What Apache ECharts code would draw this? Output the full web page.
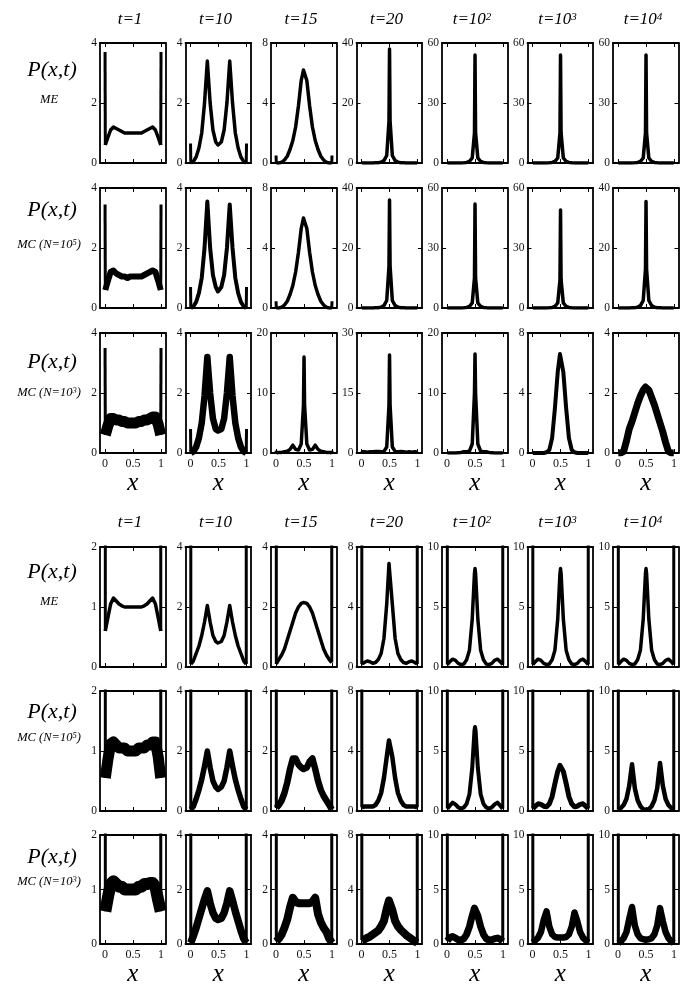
<!DOCTYPE html>
<html><head><meta charset="utf-8">
<script src="https://cdn.jsdelivr.net/npm/echarts@6/dist/echarts.min.js"></script>
<style>html,body{margin:0;padding:0;background:#fff}#c{width:686px;height:988px}</style>
</head><body><div id="c"></div>
<script>
// x grid shared by all panels
const XS = [0, 0.005, 0.05, 0.1, 0.15, 0.2, 0.25, 0.3, 0.35, 0.4, 0.45, 0.49, 0.5, 0.51, 0.55, 0.6, 0.65, 0.7, 0.75, 0.8, 0.85, 0.9, 0.95, 0.995, 1];
const TIME_LABELS = ['t=1', 't=10', 't=15', 't=20', 't=10^2', 't=10^3', 't=10^4'];
const X_TICKS = [0, 0.5, 1];

// ---- top block ----
const A_ME_1 = [3.7, 0.6, 0.85, 1.1, 1.2, 1.15, 1.1, 1.05, 1.0, 1.0, 1.0, 1.0, 1.0, 1.0, 1.0, 1.0, 1.0, 1.05, 1.1, 1.15, 1.2, 1.1, 0.85, 0.6, 3.7];
const A_ME_10 = [0.65, 0, 0.05, 0.2, 0.5, 1.0, 2.0, 3.4, 2.0, 1.1, 0.7, 0.6, 0.6, 0.6, 0.7, 1.1, 2.0, 3.4, 2.0, 1.0, 0.5, 0.2, 0.05, 0, 0.65];
const A_ME_15 = [0.5, 0, 0, 0.05, 0.2, 0.45, 0.9, 1.5, 2.4, 3.8, 5.5, 6.2, 6.3, 6.2, 5.5, 3.8, 2.4, 1.5, 0.9, 0.45, 0.2, 0.05, 0, 0, 0.5];
const A_ME_20 = [0, 0, 0, 0, 0, 0, 0.05, 0.1, 0.3, 0.8, 2.5, 14, 38, 14, 2.5, 0.8, 0.3, 0.1, 0.05, 0, 0, 0, 0, 0, 0];
const A_ME_100 = [0, 0, 0, 0, 0, 0, 0.05, 0.1, 0.3, 0.8, 2.5, 15, 54, 15, 2.5, 0.8, 0.3, 0.1, 0.05, 0, 0, 0, 0, 0, 0];
const A_ME_1000 = [0, 0, 0, 0, 0, 0, 0.05, 0.1, 0.3, 0.8, 2.5, 15, 54, 15, 2.5, 0.8, 0.3, 0.1, 0.05, 0, 0, 0, 0, 0, 0];
const A_ME_10000 = [0, 0, 0, 0, 0, 0, 0.05, 0.1, 0.3, 0.8, 2.5, 15, 54, 15, 2.5, 0.8, 0.3, 0.1, 0.05, 0, 0, 0, 0, 0, 0];
const A_ME_MAX = [4, 4, 8, 40, 60, 60, 60];

const A_MC5_1 = [3.45, 0.6, 0.9, 1.2, 1.25, 1.15, 1.1, 1.05, 1.05, 1.0, 1.05, 1.05, 1.0, 1.05, 1.05, 1.05, 1.05, 1.1, 1.15, 1.2, 1.25, 1.2, 0.9, 0.6, 3.45];
const A_MC5_10 = [0.7, 0, 0.05, 0.2, 0.5, 1.0, 2.0, 3.55, 2.0, 1.1, 0.7, 0.55, 0.55, 0.55, 0.7, 1.1, 2.0, 3.45, 2.0, 1.0, 0.5, 0.2, 0.05, 0, 0.7];
const A_MC5_15 = [0.45, 0, 0, 0.05, 0.2, 0.45, 0.9, 1.5, 2.4, 3.7, 5.3, 6.0, 6.1, 6.0, 5.3, 3.7, 2.4, 1.5, 0.9, 0.45, 0.2, 0.05, 0, 0, 0.45];
const A_MC5_20 = [0, 0, 0, 0, 0, 0, 0.05, 0.1, 0.3, 0.8, 2.5, 14, 36, 14, 2.5, 0.8, 0.3, 0.1, 0.05, 0, 0, 0, 0, 0, 0];
const A_MC5_100 = [0, 0, 0, 0, 0, 0, 0.05, 0.1, 0.3, 0.8, 2.5, 15, 52, 15, 2.5, 0.8, 0.3, 0.1, 0.05, 0, 0, 0, 0, 0, 0];
const A_MC5_1000 = [0, 0, 0, 0, 0, 0, 0.05, 0.1, 0.3, 0.8, 2.5, 14, 49, 14, 2.5, 0.8, 0.3, 0.1, 0.05, 0, 0, 0, 0, 0, 0];
const A_MC5_10000 = [0, 0, 0, 0, 0, 0, 0.05, 0.1, 0.3, 0.8, 2.5, 13, 35.5, 13, 2.5, 0.8, 0.3, 0.1, 0.05, 0, 0, 0, 0, 0, 0];
const A_MC5_MAX = [4, 4, 8, 40, 60, 60, 40];

const A_MC3_1 = [3.5, 0.6, 0.9, 1.15, 1.15, 1.1, 1.1, 1.05, 1.05, 1.0, 1.0, 1.0, 1.0, 1.0, 1.0, 1.05, 1.05, 1.1, 1.1, 1.15, 1.2, 1.2, 0.95, 0.6, 3.5];
const A_MC3_10 = [0.8, 0, 0.05, 0.2, 0.5, 1.0, 1.9, 3.2, 2.0, 1.15, 0.8, 0.75, 0.75, 0.75, 0.8, 1.15, 2.0, 3.2, 1.9, 1.0, 0.5, 0.2, 0.05, 0, 0.8];
const A_MC3_15 = [0.4, 0, 0.1, 0.1, 0.2, 0.3, 0.6, 1.3, 0.6, 0.5, 1.5, 8, 16, 8, 1.5, 0.5, 0.6, 1.3, 0.6, 0.3, 0.2, 0.1, 0.1, 0, 0.4];
const A_MC3_20 = [0, 0.3, 0.3, 0.2, 0.3, 0.3, 0.4, 0.4, 0.3, 0.4, 1.5, 12, 24.5, 12, 1.5, 0.4, 0.3, 0.4, 0.3, 0.2, 0.3, 0.2, 0.3, 0.2, 0];
const A_MC3_100 = [0, 0, 0, 0, 0, 0.05, 0.1, 0.2, 0.2, 0.3, 1.5, 10, 16.5, 10, 1.5, 0.3, 0.2, 0.2, 0.1, 0.05, 0, 0, 0, 0, 0];
const A_MC3_1000 = [0, 0, 0, 0, 0, 0, 0.05, 0.2, 1.0, 3.0, 5.4, 6.6, 6.7, 6.6, 5.4, 3.0, 1.0, 0.2, 0.05, 0, 0, 0, 0, 0, 0];
const A_MC3_10000 = [0, 0, 0, 0.05, 0.4, 0.8, 1.05, 1.35, 1.65, 1.9, 2.1, 2.2, 2.2, 2.2, 2.1, 1.85, 1.6, 1.3, 1.0, 0.7, 0.35, 0.05, 0, 0, 0];
const A_MC3_MAX = [4, 4, 20, 30, 20, 8, 4];

// ---- bottom block ----
const B_ME_1 = [99, 0.6, 0.82, 1.05, 1.15, 1.1, 1.05, 1.02, 1.0, 1.0, 1.0, 1.0, 1.0, 1.0, 1.0, 1.0, 1.0, 1.02, 1.05, 1.1, 1.15, 1.05, 0.82, 0.6, 99];
const B_ME_10 = [99, 0.1, 0.2, 0.45, 0.7, 1.05, 1.5, 2.05, 1.5, 1.05, 0.85, 0.8, 0.8, 0.8, 0.85, 1.05, 1.5, 2.05, 1.5, 1.05, 0.7, 0.45, 0.2, 0.1, 99];
const B_ME_15 = [99, 0.1, 0.25, 0.4, 0.6, 0.9, 1.2, 1.5, 1.8, 2.0, 2.12, 2.15, 2.15, 2.15, 2.12, 2.0, 1.8, 1.5, 1.2, 0.9, 0.6, 0.4, 0.25, 0.15, 99];
const B_ME_20 = [99, 0.2, 0.3, 0.4, 0.35, 0.25, 0.3, 0.5, 0.9, 1.9, 4.2, 6.9, 7.0, 6.9, 4.2, 1.9, 0.9, 0.5, 0.3, 0.25, 0.35, 0.4, 0.3, 0.2, 99];
const B_ME_100 = [99, 0.2, 0.45, 0.65, 0.55, 0.3, 0.2, 0.25, 0.6, 1.4, 4.0, 7.8, 8.2, 7.8, 4.0, 1.4, 0.6, 0.25, 0.2, 0.3, 0.55, 0.65, 0.45, 0.2, 99];
const B_ME_1000 = [99, 0.2, 0.45, 0.65, 0.55, 0.3, 0.2, 0.25, 0.6, 1.4, 4.0, 7.8, 8.2, 7.8, 4.0, 1.4, 0.6, 0.25, 0.2, 0.3, 0.55, 0.65, 0.45, 0.2, 99];
const B_ME_10000 = [99, 0.2, 0.45, 0.65, 0.55, 0.3, 0.2, 0.25, 0.6, 1.4, 4.0, 7.8, 8.2, 7.8, 4.0, 1.4, 0.6, 0.25, 0.2, 0.3, 0.55, 0.65, 0.45, 0.2, 99];
const B_ME_MAX = [2, 4, 4, 8, 10, 10, 10];

const B_MC5_1 = [99, 0.55, 0.85, 1.12, 1.15, 1.1, 1.05, 1.05, 1.05, 1.0, 1.0, 1.0, 1.0, 1.0, 1.0, 1.05, 1.05, 1.05, 1.1, 1.1, 1.15, 1.15, 0.9, 0.55, 99];
const B_MC5_10 = [99, 0.05, 0.15, 0.4, 0.7, 1.05, 1.5, 2.0, 1.45, 1.0, 0.8, 0.72, 0.7, 0.72, 0.8, 1.0, 1.45, 2.0, 1.5, 1.05, 0.7, 0.4, 0.15, 0.05, 99];
const B_MC5_15 = [99, 0.1, 0.2, 0.35, 0.6, 0.95, 1.4, 1.75, 1.75, 1.55, 1.45, 1.4, 1.4, 1.4, 1.45, 1.65, 1.75, 1.4, 1.0, 0.7, 0.5, 0.35, 0.2, 0.05, 99];
const B_MC5_20 = [99, 0.25, 0.3, 0.3, 0.3, 0.3, 0.4, 0.7, 1.2, 2.2, 3.6, 4.7, 4.8, 4.7, 3.6, 2.2, 1.2, 0.7, 0.4, 0.3, 0.3, 0.3, 0.3, 0.25, 99];
const B_MC5_100 = [99, 0.2, 0.45, 0.7, 0.55, 0.3, 0.2, 0.3, 0.6, 1.4, 3.6, 6.7, 7.0, 6.7, 3.6, 1.4, 0.6, 0.3, 0.2, 0.3, 0.55, 0.7, 0.45, 0.2, 99];
const B_MC5_1000 = [99, 0.2, 0.4, 0.6, 0.55, 0.4, 0.35, 0.6, 1.2, 2.3, 3.3, 3.8, 3.8, 3.8, 3.3, 2.3, 1.2, 0.6, 0.35, 0.4, 0.55, 0.6, 0.4, 0.2, 99];
const B_MC5_10000 = [99, 0.1, 0.25, 0.5, 1.0, 2.1, 3.9, 1.9, 0.9, 0.4, 0.15, 0.1, 0.1, 0.1, 0.15, 0.4, 0.9, 1.9, 4.0, 2.1, 1.0, 0.5, 0.25, 0.1, 99];
const B_MC5_MAX = [2, 4, 4, 8, 10, 10, 10];

const B_MC3_1 = [99, 0.6, 0.85, 1.1, 1.15, 1.1, 1.05, 1.05, 1.0, 1.0, 1.0, 1.0, 1.0, 1.0, 1.0, 1.05, 1.05, 1.1, 1.1, 1.12, 1.12, 1.05, 0.8, 0.6, 99];
const B_MC3_10 = [99, 0.05, 0.3, 0.6, 0.95, 1.3, 1.65, 1.95, 1.5, 1.15, 0.95, 0.9, 0.9, 0.9, 0.95, 1.15, 1.5, 1.95, 1.6, 1.2, 0.85, 0.5, 0.2, 0.05, 99];
const B_MC3_15 = [99, 0.1, 0.2, 0.35, 0.6, 0.9, 1.35, 1.7, 1.55, 1.5, 1.5, 1.5, 1.5, 1.5, 1.5, 1.5, 1.55, 1.7, 1.1, 0.8, 0.6, 0.45, 0.2, 0.05, 99];
const B_MC3_20 = [99, 0.3, 0.35, 0.45, 0.55, 0.7, 0.85, 1.0, 1.3, 1.7, 2.6, 3.2, 3.3, 3.2, 2.5, 1.7, 1.3, 1.05, 0.85, 0.65, 0.5, 0.35, 0.2, 0.1, 99];
const B_MC3_100 = [99, 0.3, 0.6, 0.7, 0.55, 0.4, 0.35, 0.5, 0.9, 1.6, 2.6, 3.3, 3.4, 3.3, 2.6, 1.6, 0.9, 0.5, 0.35, 0.4, 0.5, 0.55, 0.45, 0.25, 99];
const B_MC3_1000 = [99, 0.15, 0.35, 0.6, 1.1, 2.2, 3.0, 1.6, 0.9, 0.65, 0.6, 0.6, 0.6, 0.6, 0.6, 0.65, 0.9, 1.6, 2.9, 2.1, 1.1, 0.6, 0.35, 0.15, 99];
const B_MC3_10000 = [99, 0.1, 0.25, 0.55, 1.1, 2.3, 3.4, 1.7, 0.9, 0.55, 0.45, 0.4, 0.4, 0.4, 0.45, 0.55, 0.9, 1.7, 3.3, 2.1, 1.1, 0.55, 0.25, 0.1, 99];
const B_MC3_MAX = [2, 4, 4, 8, 10, 10, 10];

// ---- layout / style ----
const SERIF = "'Liberation Serif', 'DejaVu Serif', serif";
const LEFTS = [100, 185.5, 271, 356.5, 442, 527.5, 613];
const PW = 65.5, PH = 120;
const ROWS = [
  {top: 43,  data: [A_ME_1, A_ME_10, A_ME_15, A_ME_20, A_ME_100, A_ME_1000, A_ME_10000], ymax: A_ME_MAX, lw: [3.5,3.5,3.5,3.5,3.5,3.5,3.5], xlab: false, label: 'ME', py: 70, sy: 100},
  {top: 188, data: [A_MC5_1, A_MC5_10, A_MC5_15, A_MC5_20, A_MC5_100, A_MC5_1000, A_MC5_10000], ymax: A_MC5_MAX, lw: [6,4,3.5,3.5,3.5,3.5,3.5], xlab: false, label: 'MC5', py: 210, sy: 245},
  {top: 333, data: [A_MC3_1, A_MC3_10, A_MC3_15, A_MC3_20, A_MC3_100, A_MC3_1000, A_MC3_10000], ymax: A_MC3_MAX, lw: [11,6.5,3.5,3.5,3.5,4,7], xlab: true, label: 'MC3', py: 362, sy: 393},
  {top: 547, data: [B_ME_1, B_ME_10, B_ME_15, B_ME_20, B_ME_100, B_ME_1000, B_ME_10000], ymax: B_ME_MAX, lw: [3.5,3.5,3.5,3.5,3.5,3.5,3.5], xlab: false, label: 'ME', py: 572, sy: 602},
  {top: 691, data: [B_MC5_1, B_MC5_10, B_MC5_15, B_MC5_20, B_MC5_100, B_MC5_1000, B_MC5_10000], ymax: B_MC5_MAX, lw: [11,5.5,6.5,4.5,4,5,4.5], xlab: false, label: 'MC5', py: 712, sy: 738},
  {top: 835, data: [B_MC3_1, B_MC3_10, B_MC3_15, B_MC3_20, B_MC3_100, B_MC3_1000, B_MC3_10000], ymax: B_MC3_MAX, lw: [12,7.5,8,8,7,6.5,6.5], xlab: true, label: 'MC3', py: 857, sy: 882}
];
const TITLE_Y = [20, 523];

const grids = [], xAxes = [], yAxes = [], series = [], graphics = [];
const axLine = {show: true, onZero: false, lineStyle: {color: '#000', width: 1.8}};
const tick = {show: true, inside: true, length: 4, lineStyle: {color: '#000', width: 1}};

ROWS.forEach((row, r) => {
  row.data.forEach((arr, c) => {
    const g = grids.length;
    grids.push({left: LEFTS[c], top: row.top, width: PW, height: PH, containLabel: false});
    const xBase = {type: 'value', gridIndex: g, min: -0.09, max: 1.08, splitLine: {show: false}, axisLine: axLine};
    xAxes.push(Object.assign({}, xBase, {
      position: 'bottom',
      axisTick: Object.assign({}, tick, {customValues: X_TICKS}),
      axisLabel: {show: row.xlab, customValues: X_TICKS, fontFamily: SERIF, fontSize: 12, color: '#111', margin: 5},
      name: row.xlab ? 'x' : '', nameLocation: 'middle', nameGap: 17,
      nameTextStyle: {fontFamily: SERIF, fontStyle: 'italic', fontSize: 25, color: '#000'}
    }));
    xAxes.push(Object.assign({}, xBase, {
      position: 'top',
      axisTick: Object.assign({}, tick, {customValues: X_TICKS}),
      axisLabel: {show: false}
    }));
    const M = row.ymax[c];
    const yBase = {type: 'value', gridIndex: g, min: 0, max: M, interval: M / 2, splitLine: {show: false}, axisLine: axLine, axisTick: tick};
    yAxes.push(Object.assign({}, yBase, {position: 'left', axisLabel: {fontFamily: SERIF, fontSize: 11.5, color: '#111', margin: 3}}));
    yAxes.push(Object.assign({}, yBase, {position: 'right', axisLabel: {show: false}}));
    const pts = XS.map((x, i) => [x, arr[i]]);
    const base = {type: 'line', xAxisIndex: 2 * g, yAxisIndex: 2 * g, symbol: 'none', clip: true, silent: true, animation: false};
    series.push(Object.assign({}, base, {data: pts.slice(1, 24), lineStyle: {color: '#000', width: row.lw[c], join: 'round'}}));
    series.push(Object.assign({}, base, {data: pts.slice(0, 2), lineStyle: {color: '#000', width: 3}}));
    series.push(Object.assign({}, base, {data: pts.slice(23, 25), lineStyle: {color: '#000', width: 3}}));
  });
  // row labels
  graphics.push({type: 'text', x: 52, y: row.py, style: {text: 'P(x,t)', font: 'italic 22px ' + SERIF, fill: '#000', align: 'center', verticalAlign: 'middle'}});
  const subText = row.label === 'ME' ? 'ME' : '{a|MC (N=10}{s|' + (row.label === 'MC5' ? '5' : '3') + '}{a|)}';
  graphics.push({type: 'text', x: 49, y: row.sy, style: {
    text: subText, font: 'italic 12.5px ' + SERIF, fill: '#000', align: 'center', verticalAlign: 'middle',
    rich: {a: {fontFamily: SERIF, fontStyle: 'italic', fontSize: 12.5, fill: '#000', verticalAlign: 'bottom'},
           s: {fontFamily: SERIF, fontStyle: 'italic', fontSize: 8.5, fill: '#000', verticalAlign: 'top'}}
  }});
});

// column titles
TITLE_Y.forEach(ty => {
  TIME_LABELS.forEach((lab, c) => {
    const parts = lab.split('^');
    const txt = parts.length > 1 ? '{a|' + parts[0] + '}{s|' + parts[1] + '}' : '{a|' + parts[0] + '}';
    graphics.push({type: 'text', x: LEFTS[c] + 30, y: ty, style: {
      text: txt, align: 'center', verticalAlign: 'middle', fill: '#000',
      rich: {a: {fontFamily: SERIF, fontStyle: 'italic', fontSize: 17, fill: '#000', verticalAlign: 'bottom'},
             s: {fontFamily: SERIF, fontStyle: 'italic', fontSize: 11, fill: '#000', verticalAlign: 'top'}}
    }});
  });
});

const chart = echarts.init(document.getElementById('c'), null, {renderer: 'canvas'});
chart.setOption({backgroundColor: '#fff', animation: false, grid: grids, xAxis: xAxes, yAxis: yAxes, series: series, graphic: graphics});
</script></body></html>
